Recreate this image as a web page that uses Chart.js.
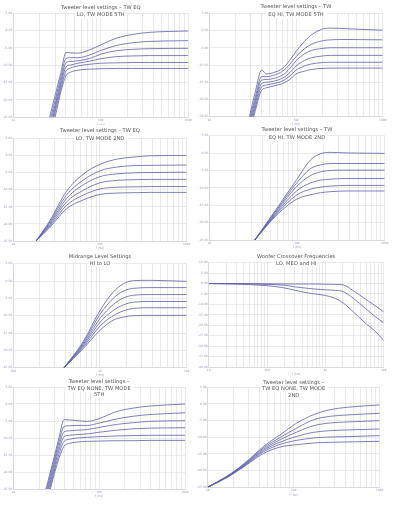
<!DOCTYPE html>
<html>
<head>
<meta charset="utf-8">
<script src="https://cdn.jsdelivr.net/npm/chart.js@4/dist/chart.umd.min.js"></script>
<style>
  html, body { margin: 0; padding: 0; background: #fff; }
  #page { position: relative; width: 395px; height: 506px; overflow: hidden; }
  canvas { position: absolute; }
</style>
</head>
<body>
<div id="page"></div>
<script>
// ---- Data (dB vs Hz) ----

// Tweeter, TW EQ LO, mode 5th
const tw5LoFreq = [2500, 3000, 3500, 4000, 4500, 5500, 7500, 10000, 15000, 23000, 36000, 100000];
const tw5LoLevels = [
  [-26.7, -18.8, -12.1, -6.3, -6.4, -6.5, -5.5, -4.1, -2.2, -1.1, -0.5, -0.1],
  [-28.0, -20.2, -13.4, -8.0, -7.8, -7.8, -7.0, -5.7, -4.3, -3.5, -3.1, -2.9],
  [-29.0, -21.5, -14.6, -9.3, -8.9, -8.7, -8.0, -6.8, -5.8, -5.4, -5.2, -5.1],
  [-30.5, -22.5, -15.6, -10.5, -9.9, -9.4, -8.8, -8.1, -7.5, -7.3, -7.2, -7.2],
  [-31.5, -23.5, -16.6, -11.7, -10.8, -10.2, -9.7, -9.4, -9.3, -9.2, -9.2, -9.2],
  [-33.0, -25.0, -17.6, -13.0, -12.0, -11.4, -11.1, -11.0, -10.9, -10.9, -10.9, -10.9]
];

// Tweeter, TW EQ HI, mode 5th
const tw5HiFreq = [2900, 3400, 4000, 4600, 5500, 7000, 8500, 10000, 12500, 15000, 20000, 25000, 40000, 100000];
const tw5HiLevels = [
  [-25.0, -17.7, -11.5, -12.6, -12.2, -11.0, -8.6, -6.1, -3.2, -1.3, 0.4, 0.7, 0.5, 0.1],
  [-26.0, -19.2, -13.4, -13.4, -13.0, -11.8, -9.8, -7.6, -5.3, -4.0, -3.0, -2.7, -2.6, -2.7],
  [-27.0, -20.2, -14.4, -14.2, -13.9, -12.9, -11.0, -8.8, -6.8, -5.8, -5.2, -5.0, -5.0, -5.0],
  [-28.0, -21.2, -15.4, -15.0, -14.7, -13.8, -12.2, -10.3, -8.7, -7.9, -7.4, -7.2, -7.2, -7.2],
  [-29.0, -22.2, -16.4, -15.8, -15.4, -14.6, -13.2, -11.5, -10.3, -9.7, -9.3, -9.2, -9.2, -9.2],
  [-30.0, -23.2, -17.4, -16.6, -16.1, -15.4, -14.2, -12.6, -11.8, -11.3, -11.0, -10.9, -10.9, -10.9]
];

// Tweeter, TW EQ LO, mode 2nd
const tw2LoFreq = [1830, 2650, 4100, 6400, 10000, 15600, 24000, 38000, 100000];
const tw2LoLevels = [
  [-25.0, -19.0, -10.5, -5.5, -2.6, -1.1, -0.5, -0.1, 0.0],
  [-25.0, -19.4, -11.6, -7.2, -4.5, -3.4, -3.0, -2.9, -2.8],
  [-25.0, -19.8, -12.6, -8.6, -6.2, -5.4, -5.1, -5.0, -4.9],
  [-25.0, -20.2, -13.6, -10.2, -8.0, -7.3, -7.1, -7.0, -7.0],
  [-25.0, -20.6, -14.6, -11.6, -9.8, -9.3, -9.2, -9.1, -9.1],
  [-25.0, -21.0, -15.6, -13.0, -11.4, -11.0, -10.9, -10.8, -10.8]
];

// Tweeter, TW EQ HI, mode 2nd
const tw2HiFreq = [3300, 6000, 10000, 14200, 18500, 24000, 37000, 100000];
const tw2HiLevels = [
  [-25.0, -15.6, -7.5, -2.0, -0.2, 0.2, 0.05, -0.1],
  [-25.0, -16.0, -8.5, -4.5, -3.4, -3.0, -3.0, -3.0],
  [-25.0, -16.4, -9.5, -6.5, -5.4, -5.0, -4.9, -4.9],
  [-25.0, -16.8, -10.8, -8.6, -7.8, -7.5, -7.3, -7.3],
  [-25.0, -17.2, -12.0, -10.4, -9.8, -9.5, -9.3, -9.3],
  [-25.0, -17.6, -13.2, -12.0, -11.4, -11.1, -10.9, -10.9]
];

// Midrange level settings, HI to LO
const midFreq = [385, 640, 1000, 1420, 1860, 2430, 3800, 10000];
const midLevels = [
  [-25.0, -17.5, -8.5, -3.2, -0.8, 0.1, 0.2, -0.1],
  [-25.0, -17.9, -9.6, -5.0, -2.9, -2.1, -1.9, -1.9],
  [-25.0, -18.3, -10.8, -6.8, -4.9, -4.1, -3.9, -3.9],
  [-25.0, -18.7, -11.9, -8.5, -6.9, -6.1, -5.9, -5.9],
  [-25.0, -19.1, -13.0, -10.0, -8.6, -7.9, -7.7, -7.7],
  [-25.0, -19.5, -14.2, -11.3, -10.4, -10.0, -9.9, -9.9]
];

// Woofer crossover frequencies, LO / MED / HI
const wooferFreq = [10, 30, 100, 200, 300, 500, 700, 1000, 1500, 2000, 3000, 5000, 7000, 10000];
const wooferHi = [0, 0, -0.1, -0.2, -0.2, -0.2, -0.2, -0.3, -0.4, -0.6, -3.4, -7.7, -10.4, -13.6];
const wooferMed = [0, -0.05, -0.4, -0.8, -1.6, -2.3, -2.7, -3.0, -3.3, -3.8, -7.0, -12.2, -15.6, -18.9];
const wooferLo = [0, -0.3, -1.0, -2.1, -3.2, -4.5, -5.1, -5.7, -7.2, -9.2, -13.5, -19.3, -22.6, -27.3];

// Tweeter, TW EQ NONE, mode 5th
const tw5NoneFreq = [2400, 2900, 3400, 3900, 4500, 5500, 7300, 10000, 16000, 25000, 39000, 100000];
const tw5NoneLevels = [
  [-25.0, -17.0, -10.0, -4.6, -4.7, -4.9, -5.1, -4.3, -2.2, -1.2, -0.6, 0.0],
  [-26.0, -18.0, -11.2, -6.6, -6.4, -6.3, -6.3, -5.6, -4.4, -3.6, -3.1, -2.6],
  [-27.0, -19.0, -12.4, -8.2, -7.9, -7.7, -7.5, -6.9, -6.0, -5.5, -5.1, -4.9],
  [-28.0, -20.0, -13.6, -9.6, -9.2, -9.0, -8.8, -8.3, -7.7, -7.3, -7.1, -7.0],
  [-29.0, -21.0, -14.8, -11.0, -10.4, -10.0, -9.8, -9.6, -9.4, -9.3, -9.2, -9.2],
  [-30.0, -22.0, -16.0, -12.4, -11.6, -11.2, -11.0, -10.9, -10.8, -10.8, -10.7, -10.7]
];

// Tweeter, TW EQ NONE, mode 2nd
const tw2NoneFreq = [1000, 1830, 2860, 4480, 7000, 10900, 17100, 26700, 41700, 100000];
const tw2NoneLevels = [
  [-25.0, -21.0, -17.2, -12.7, -9.2, -5.7, -3.2, -1.7, -1.0, -0.3],
  [-25.0, -21.1, -17.4, -13.1, -10.0, -7.2, -4.7, -3.7, -3.3, -2.8],
  [-25.0, -21.2, -17.6, -13.5, -10.7, -8.4, -6.5, -5.7, -5.4, -5.0],
  [-25.0, -21.3, -17.8, -13.9, -11.4, -9.7, -8.5, -8.0, -7.8, -7.5],
  [-25.0, -21.4, -18.0, -14.3, -12.1, -10.9, -10.2, -9.9, -9.8, -9.5],
  [-25.0, -21.5, -18.2, -14.8, -12.9, -12.2, -11.7, -11.5, -11.4, -11.2]
];

const tweeterTicks = { 1000: '1k', 10000: '10k', 100000: '100k' };
const midTicks = { 100: '100', 1000: '1k', 10000: '10k' };
const wooferTicks = { 10: '10', 100: '100', 1000: '1k', 10000: '10k' };

// ---- Panels: canvas rect and plot box (page coords) ----
const panels = [
  { rect: [0, 0, 197, 125], box: [13.3, 13.3, 188.3, 117.3], title: ['Tweeter level settings – TW EQ', 'LO, TW MODE 5TH'], ty: [8, 15],
    freq: tw5LoFreq, series: tw5LoLevels, xr: [1000, 100000], xl: tweeterTicks, yr: [-25, 5] },
  { rect: [197, 0, 198, 125], box: [209.3, 13.3, 382.7, 116.7], title: ['Tweeter level settings – TW', 'EQ HI, TW MODE 5TH'], ty: [7, 15],
    freq: tw5HiFreq, series: tw5HiLevels, xr: [1000, 100000], xl: tweeterTicks, yr: [-25, 5] },
  { rect: [0, 125, 197, 127], box: [13.3, 138.3, 186.7, 241], title: ['Tweeter level settings – TW EQ', 'LO, TW MODE 2ND'], ty: [130.7, 138.3],
    freq: tw2LoFreq, series: tw2LoLevels, xr: [1000, 100000], xl: tweeterTicks, yr: [-25, 5] },
  { rect: [197, 125, 198, 127], box: [209.3, 135.7, 384.7, 240], title: ['Tweeter level settings – TW', 'EQ HI, TW MODE 2ND'], ty: [130, 137.7],
    freq: tw2HiFreq, series: tw2HiLevels, xr: [1000, 100000], xl: tweeterTicks, yr: [-25, 5] },
  { rect: [0, 252, 197, 126], box: [13.3, 263.7, 186.7, 367.7], title: ['Midrange Level Settings', 'HI to LO'], ty: [257, 263.7],
    freq: midFreq, series: midLevels, xr: [100, 10000], xl: midTicks, yr: [-25, 5] },
  { rect: [197, 252, 198, 126], box: [208.7, 262.7, 383.7, 367], title: ['Woofer Crossover Frequencies', 'LO, MED and HI'], ty: [257, 263.7],
    freq: wooferFreq, series: [wooferHi, wooferMed, wooferLo], xr: [10, 10000], xl: wooferTicks, yr: [-40, 10] },
  { rect: [0, 378, 197, 128], box: [13.3, 387, 185, 489], title: ['Tweeter level settings –', 'TW EQ NONE, TW MODE', '5TH'], ty: [382, 388.3, 394.7],
    freq: tw5NoneFreq, series: tw5NoneLevels, xr: [1000, 100000], xl: tweeterTicks, yr: [-25, 5] },
  { rect: [197, 378, 198, 128], box: [207.7, 387.3, 379.7, 487.3], title: ['Tweeter level settings –', 'TW EQ NONE, TW MODE', '2ND'], ty: [382.7, 388.9, 395.3],
    freq: tw2NoneFreq, series: tw2NoneLevels, xr: [1000, 100000], xl: tweeterTicks, yr: [-25, 5] }
];

const LINE_COLOR = '#5d60aa';
const GRID_COLOR = '#dcdcdc';
const TICK_COLOR = '#9a9ab8';

// Title drawn over the plot on a white patch, plus the small axis caption
const overlayPlugin = {
  id: 'overlay',
  afterDraw(chart, args, opts) {
    const ctx = chart.ctx;
    const area = chart.chartArea;
    const cx = (area.left + area.right) / 2;
    ctx.save();
    ctx.textAlign = 'center';
    ctx.textBaseline = 'middle';
    ctx.font = '5.2px "DejaVu Sans"';
    opts.lines.forEach((t, i) => {
      const y = opts.ys[i];
      const w = ctx.measureText(t).width;
      ctx.fillStyle = '#fff';
      ctx.fillRect(cx - w / 2 - 2, y - 3.5, w + 4, 7);
      ctx.fillStyle = '#555';
      ctx.fillText(t, cx, y);
    });
    ctx.font = '3px "DejaVu Sans"';
    ctx.fillStyle = TICK_COLOR;
    ctx.fillText('f (Hz)', cx, area.bottom + 7.5);
    ctx.restore();
  }
};

function decadeTicks(min, max) {
  const out = [];
  for (let d = min; d < max; d *= 10) {
    for (let m = 1; m < 10; m++) out.push({ value: m * d });
  }
  out.push({ value: max });
  return out;
}

function makePanel(p) {
  const [ox, oy, w, h] = p.rect;
  const [L, T, R, B] = p.box;
  const canvas = document.createElement('canvas');
  canvas.width = w;
  canvas.height = h;
  canvas.style.left = ox + 'px';
  canvas.style.top = oy + 'px';
  canvas.style.width = w + 'px';
  canvas.style.height = h + 'px';
  document.getElementById('page').appendChild(canvas);

  const datasets = p.series.map(vals => ({
    data: p.freq.map((f, i) => ({ x: f, y: vals[i] })),
    borderColor: LINE_COLOR,
    borderWidth: 0.8,
    pointRadius: 0,
    fill: false,
    cubicInterpolationMode: 'monotone'
  }));

  new Chart(canvas, {
    type: 'line',
    data: { datasets: datasets },
    options: {
      responsive: false,
      animation: false,
      events: [],
      layout: { padding: { left: 0, top: T - oy, right: ox + w - R, bottom: 0 } },
      plugins: {
        legend: { display: false },
        tooltip: { enabled: false },
        overlay: { lines: p.title, ys: p.ty.map(y => y - oy) }
      },
      scales: {
        x: {
          type: 'logarithmic',
          min: p.xr[0],
          max: p.xr[1],
          afterBuildTicks: s => { s.ticks = decadeTicks(p.xr[0], p.xr[1]); },
          afterFit: s => { s.height = oy + h - B; },
          grid: { color: GRID_COLOR, lineWidth: 0.6, drawTicks: false },
          border: { color: '#cfcfcf', width: 0.6 },
          ticks: {
            autoSkip: false, maxRotation: 0, minRotation: 0, padding: 1.5,
            font: { size: 3, family: 'DejaVu Sans' }, color: TICK_COLOR,
            callback: v => p.xl[v] || ''
          }
        },
        y: {
          min: p.yr[0],
          max: p.yr[1],
          afterBuildTicks: s => {
            const t = [];
            for (let v = p.yr[1]; v >= p.yr[0]; v -= 5) t.push({ value: v });
            s.ticks = t;
          },
          afterFit: s => { s.width = L - ox; },
          grid: { color: GRID_COLOR, lineWidth: 0.6, drawTicks: false },
          border: { color: '#cfcfcf', width: 0.6 },
          ticks: {
            padding: 1, font: { size: 3, family: 'DejaVu Sans' }, color: TICK_COLOR,
            callback: v => v.toFixed(2)
          }
        }
      }
    },
    plugins: [overlayPlugin]
  });
}

panels.forEach(makePanel);
</script>
</body>
</html>
